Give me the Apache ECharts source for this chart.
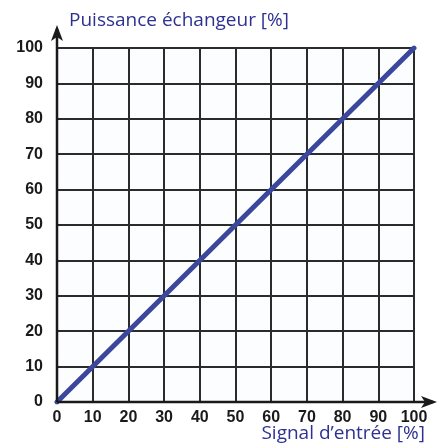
<!DOCTYPE html>
<html>
<head>
<meta charset="utf-8">
<script src="https://cdn.jsdelivr.net/npm/echarts@6/dist/echarts.min.js"></script>
<style>
  html, body { margin: 0; padding: 0; background: #ffffff; }
  #chart { width: 439px; height: 446px; }
</style>
</head>
<body>
<div id="chart"></div>
<script>
// Transfer curve: exchanger power vs input signal (both in %)
const signalPct = [0, 100];
const powerPct = [0, 100];
const tickValues = [0, 10, 20, 30, 40, 50, 60, 70, 80, 90, 100];
const yAxisTitle = 'Puissance échangeur [%]';
const xAxisTitle = 'Signal d\u2019entrée [%]';

const chart = echarts.init(document.getElementById('chart'), null, { renderer: 'canvas' });

const gridLine = { show: true, lineStyle: { color: '#2b2b2b', width: 2 } };
const tickLabel = {
  color: '#1a1a1a', fontFamily: 'Liberation Sans, Arial, sans-serif',
  fontWeight: 'bold', fontSize: 16
};
const navy = '#2e3192';
const titleFont = { color: navy, fontFamily: 'Open Sans, sans-serif', fontSize: 19, fontWeight: 'normal' };

chart.setOption({
  animation: false,
  backgroundColor: '#ffffff',
  grid: { left: 57, right: 25, top: 48, bottom: 44, containLabel: false,
          show: true, backgroundColor: '#fcfdfe', borderWidth: 0 },
  title: {
    text: xAxisTitle, right: 9, bottom: -2,
    textStyle: titleFont
  },
  xAxis: {
    type: 'value', min: 0, max: 100, interval: 10,
    axisLine: { show: false }, axisTick: { show: false },
    splitLine: gridLine,
    axisLabel: Object.assign({ margin: 8, formatter: v => tickValues.includes(v) ? String(v) : '' }, tickLabel)
  },
  yAxis: {
    type: 'value', min: 0, max: 100, interval: 10,
    name: yAxisTitle, nameLocation: 'end', nameGap: 27,
    nameTextStyle: Object.assign({ align: 'left', verticalAlign: 'middle', padding: [0, 0, 0, 12] }, titleFont),
    axisLine: { show: false }, axisTick: { show: false },
    splitLine: gridLine,
    axisLabel: Object.assign({ margin: 14 }, tickLabel)
  },
  series: [{
    type: 'line',
    data: signalPct.map((x, i) => [x, powerPct[i]]),
    symbol: 'none',
    lineStyle: { color: '#3b479c', width: 5, cap: 'round' },
    z: 5
  }]
});

// Axis lines with arrowheads, extended past the plot area
const origin = chart.convertToPixel({ gridIndex: 0 }, [0, 0]);
const xEnd = chart.convertToPixel({ gridIndex: 0 }, [100, 0]);
const yEnd = chart.convertToPixel({ gridIndex: 0 }, [0, 100]);
const ext = 23;
const axisStyle = { stroke: '#1a1a1a', lineWidth: 2.5 };
const yTip = [origin[0], yEnd[1] - ext];
const xTip = [xEnd[0] + ext, origin[1]];
chart.setOption({
  graphic: [
    { type: 'line', z: 10, shape: { x1: origin[0], y1: origin[1], x2: yTip[0], y2: yTip[1] + 4 }, style: axisStyle },
    { type: 'line', z: 10, shape: { x1: origin[0], y1: origin[1], x2: xTip[0] - 4, y2: xTip[1] }, style: axisStyle },
    { type: 'polygon', z: 11, shape: { points: [
        [yTip[0], yTip[1]], [yTip[0] + 6, yTip[1] + 16], [yTip[0], yTip[1] + 12], [yTip[0] - 6, yTip[1] + 16]
      ] }, style: { fill: '#1a1a1a' } },
    { type: 'polygon', z: 11, shape: { points: [
        [xTip[0], xTip[1]], [xTip[0] - 16, xTip[1] - 6], [xTip[0] - 12, xTip[1]], [xTip[0] - 16, xTip[1] + 6]
      ] }, style: { fill: '#1a1a1a' } }
  ]
});
</script>
</body>
</html>
